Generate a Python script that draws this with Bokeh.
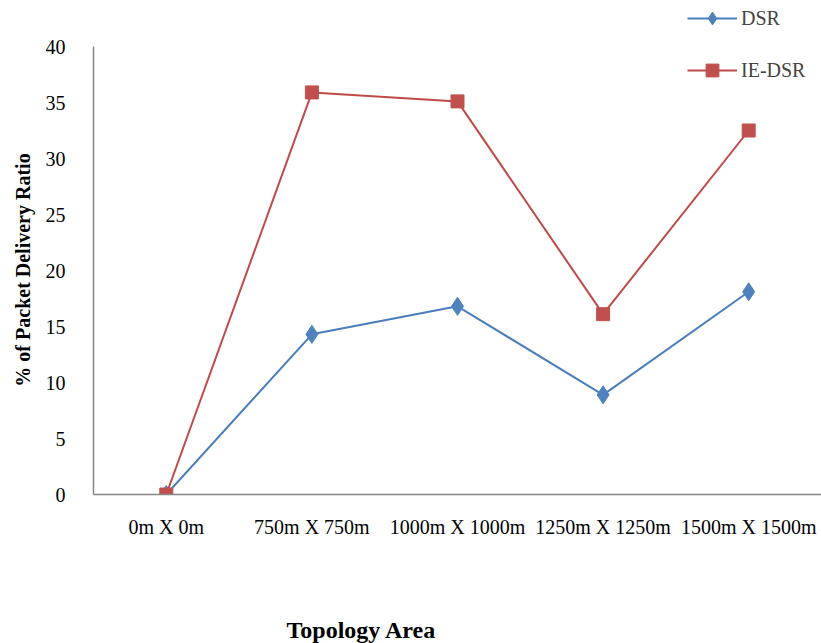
from bokeh.plotting import figure
from bokeh.embed import file_html
from bokeh.resources import INLINE
from bokeh.models import FixedTicker, Legend, Range1d, FactorRange

categories = ["0m X 0m", "750m X 750m", "1000m X 1000m", "1250m X 1250m", "1500m X 1500m"]
dsr = [0, 14.3, 16.8, 8.9, 18.1]
ie_dsr = [0, 35.9, 35.1, 16.1, 32.5]
y_ticks = [0, 5, 10, 15, 20, 25, 30, 35, 40]

FONT = "Liberation Serif"
NB = "\u00a0"

# frame spans from the top of the page down to the x axis; 40 sits 46 px below the top
frame_h = 494
y_top = 40 * frame_h / 448.0

p = figure(width=821, height=643, output_backend="svg", toolbar_location=None,
           x_range=FactorRange(*categories, range_padding=0), y_range=Range1d(0, y_top),
           min_border_left=93, min_border_right=0, min_border_top=0, min_border_bottom=149)
p.frame_width = 821 - 93
p.frame_height = frame_h
p.outline_line_color = None
p.xgrid.grid_line_color = None
p.ygrid.grid_line_color = None
p.background_fill_color = "white"
p.border_fill_color = "white"

r1l = p.line(categories, dsr, line_color="#4A7EBB", line_width=2)
r1m = p.scatter(categories, dsr, marker="diamond", size=18, fill_color="#4F81BD", line_color="#4F81BD")
r2l = p.line(categories, ie_dsr, line_color="#BE4B48", line_width=2)
r2m = p.scatter(categories, ie_dsr, marker="square", size=13, fill_color="#C0504D", line_color="#C0504D")

for ax in (p.xaxis[0], p.yaxis[0]):
    ax.axis_line_color = "#868686"
    ax.axis_line_width = 1.5
    ax.major_tick_line_color = None
    ax.minor_tick_line_color = None
    ax.major_label_text_font = FONT
    ax.major_label_text_font_size = "20px"
    ax.major_label_text_color = "black"
    ax.axis_label_text_font = FONT
    ax.axis_label_text_font_style = "bold"
    ax.axis_label_text_color = "black"

p.yaxis[0].ticker = FixedTicker(ticks=y_ticks)
p.yaxis[0].bounds = (0, 40)
p.yaxis[0].major_label_standoff = 22
p.yaxis[0].axis_label = "% of Packet Delivery Ratio" + NB * 9
p.yaxis[0].axis_label_text_font_size = "20px"
p.yaxis[0].axis_label_standoff = 9

p.xaxis[0].major_label_standoff = 15
p.xaxis[0].axis_label = "Topology Area" + NB * 32
p.xaxis[0].axis_label_text_font_size = "24px"
p.xaxis[0].axis_label_standoff = 76

legend = Legend(items=[("DSR", [r1l, r1m]), ("IE-DSR", [r2l, r2m])],
                location=(594, 408), orientation="vertical",
                label_text_font=FONT, label_text_font_size="20px",
                glyph_width=50, glyph_height=32, label_height=32, label_standoff=4,
                spacing=20, padding=0, margin=0, border_line_color=None,
                background_fill_alpha=0)
p.add_layout(legend, "center")

open("out.html", "w").write(file_html(p, INLINE))
